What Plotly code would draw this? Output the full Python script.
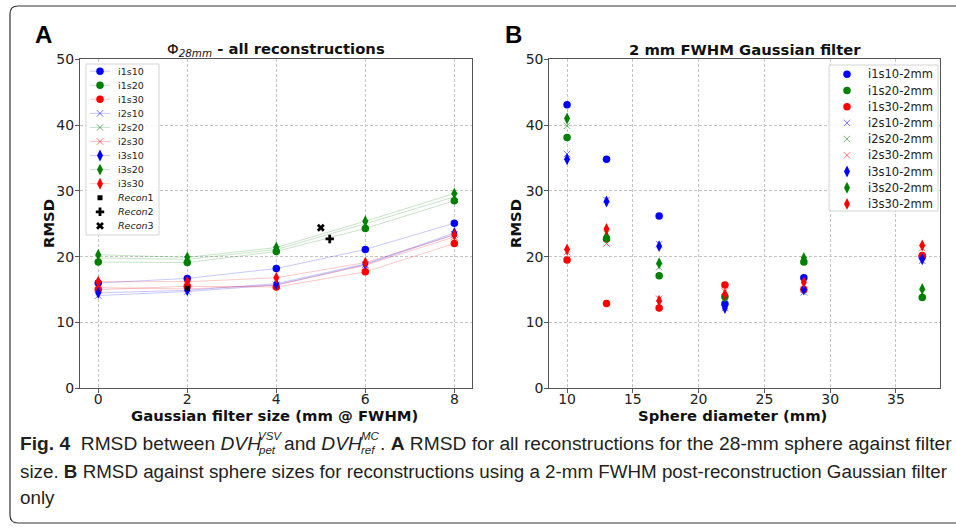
import plotly.graph_objects as go

W, H = 956, 529

# ---------------- data ----------------
series_names = ["i1s10", "i1s20", "i1s30", "i2s10", "i2s20", "i2s30", "i3s10", "i3s20", "i3s30"]

# Panel A: RMSD vs Gaussian filter size (28 mm sphere)
filter_sizes = [0, 2, 4, 6, 8]
a_i1s10 = [16.0, 16.7, 18.2, 21.1, 25.1]
a_i1s20 = [19.2, 19.1, 20.8, 24.3, 28.5]
a_i1s30 = [15.0, 15.5, 15.4, 17.7, 22.0]
a_i2s10 = [14.1, 14.7, 15.7, 18.8, 23.4]
a_i2s20 = [19.8, 19.6, 21.1, 25.0, 29.1]
a_i2s30 = [15.3, 15.1, 15.7, 18.7, 23.0]
a_i3s10 = [14.5, 14.9, 15.9, 18.9, 23.6]
a_i3s20 = [20.3, 19.9, 21.4, 25.4, 29.6]
a_i3s30 = [16.2, 16.2, 16.8, 19.1, 23.3]
a_values = [a_i1s10, a_i1s20, a_i1s30, a_i2s10, a_i2s20, a_i2s30, a_i3s10, a_i3s20, a_i3s30]

recon_names = ["Recon1", "Recon2", "Recon3"]
recon_x = [2.0, 5.2, 5.0]
recon_y = [15.2, 22.7, 24.4]

# Panel B: RMSD vs sphere diameter (2 mm FWHM filter)
sphere_diam = [10, 13, 17, 22, 28, 37]
b_i1s10 = [43.1, 34.8, 26.2, 12.8, 16.8, 20.0]
b_i1s20 = [38.1, 22.7, 17.1, 13.9, 19.2, 13.8]
b_i1s30 = [19.5, 12.9, 12.2, 15.7, 15.0, 20.2]
b_i2s10 = [35.6, 28.6, 21.9, 12.2, 14.6, 19.4]
b_i2s20 = [39.9, 23.5, 18.4, 13.7, 19.5, 14.5]
b_i2s30 = [20.7, 22.0, 13.6, 14.7, 15.0, 21.3]
b_i3s10 = [34.8, 28.4, 21.6, 12.2, 15.0, 19.6]
b_i3s20 = [41.0, 23.1, 19.0, 13.9, 19.8, 15.1]
b_i3s30 = [21.1, 24.2, 13.3, 14.3, 16.1, 21.7]
b_values = [b_i1s10, b_i1s20, b_i1s30, b_i2s10, b_i2s20, b_i2s30, b_i3s10, b_i3s20, b_i3s30]

y_ticks = [0, 10, 20, 30, 40, 50]
a_x_ticks = [0, 2, 4, 6, 8]
b_x_ticks = [10, 15, 20, 25, 30, 35]

# ---------------- styles ----------------
RGB = {"s10": (0, 0, 255), "s20": (0, 128, 0), "s30": (255, 0, 0)}
FONT = "DejaVu Sans"


def rgba(c, a):
    return "rgba(%d,%d,%d,%.2f)" % (c[0], c[1], c[2], a)


def marker_style(name):
    it = name[:2]
    c = RGB[name[2:]]
    if it == "i1":
        return dict(symbol="circle", size=7.5, color=rgba(c, 1), line=dict(width=0))
    if it == "i2":
        return dict(symbol="x-thin", size=6.5, color=rgba(c, 0.55),
                    line=dict(width=1, color=rgba(c, 0.55)))
    return dict(symbol="diamond-tall", size=8.5, color=rgba(c, 1), line=dict(width=0))


recon_markers = [
    dict(symbol="square", size=5, color="black"),
    dict(symbol="cross", size=7, color="black"),
    dict(symbol="x", size=7, color="black"),
]

fig = go.Figure()

# Panel A traces
for name, vals in zip(series_names, a_values):
    c = RGB[name[2:]]
    fig.add_trace(go.Scatter(
        x=filter_sizes, y=vals, mode="lines+markers", name=name,
        line=dict(color=rgba(c, 0.22), width=1),
        marker=marker_style(name), xaxis="x", yaxis="y", showlegend=False))
for i, nm in enumerate(recon_names):
    fig.add_trace(go.Scatter(
        x=[recon_x[i]], y=[recon_y[i]], mode="markers", name=nm,
        marker=recon_markers[i], xaxis="x", yaxis="y", showlegend=False))

# Panel B traces
for name, vals in zip(series_names, b_values):
    fig.add_trace(go.Scatter(
        x=sphere_diam, y=vals, mode="markers", name=name + "-2mm",
        marker=marker_style(name), xaxis="x2", yaxis="y2", showlegend=False))

# ---------------- legends (drawn in a pixel-space overlay axis) ----------------
annotations = []


def legend_box(x0, x1, y0, y1):
    fig.add_trace(go.Scatter(
        x=[x0, x1, x1, x0, x0], y=[y0, y0, y1, y1, y0], mode="lines", fill="toself",
        fillcolor="rgba(255,255,255,0.85)", line=dict(color="#d4d4d4", width=1),
        xaxis="x3", yaxis="y3", showlegend=False, hoverinfo="skip"))


# legend A
legend_box(86, 159, 64, 235)
la_y0, la_dy = 71.2, 14.06
for i, name in enumerate(series_names):
    yy = la_y0 + la_dy * i
    c = RGB[name[2:]]
    fig.add_trace(go.Scatter(
        x=[90, 110], y=[yy, yy], mode="lines",
        line=dict(color=rgba(c, 0.22), width=1),
        xaxis="x3", yaxis="y3", showlegend=False, hoverinfo="skip"))
    fig.add_trace(go.Scatter(
        x=[100], y=[yy], mode="markers", marker=marker_style(name),
        xaxis="x3", yaxis="y3", showlegend=False, hoverinfo="skip"))
    annotations.append(dict(x=116, y=yy, xref="x3", yref="y3", text=name, showarrow=False,
                            xanchor="left", yanchor="middle",
                            font=dict(family=FONT, size=9.5, color="#222")))
for j, nm in enumerate(recon_names):
    yy = la_y0 + la_dy * (len(series_names) + j)
    fig.add_trace(go.Scatter(
        x=[100], y=[yy], mode="markers", marker=recon_markers[j],
        xaxis="x3", yaxis="y3", showlegend=False, hoverinfo="skip"))
    annotations.append(dict(x=116, y=yy, xref="x3", yref="y3",
                            text="<i>" + nm[:-1] + "</i>" + nm[-1], showarrow=False,
                            xanchor="left", yanchor="middle",
                            font=dict(family=FONT, size=9.5, color="#222")))

# legend B
legend_box(829, 938, 65, 211)
lb_y0, lb_dy = 74.3, 16.2
for i, name in enumerate(series_names):
    yy = lb_y0 + lb_dy * i
    fig.add_trace(go.Scatter(
        x=[847], y=[yy], mode="markers", marker=marker_style(name),
        xaxis="x3", yaxis="y3", showlegend=False, hoverinfo="skip"))
    annotations.append(dict(x=866, y=yy, xref="x3", yref="y3", text=name + "-2mm",
                            showarrow=False, xanchor="left", yanchor="middle",
                            font=dict(family=FONT, size=11.5, color="#222")))


# ---------------- text ----------------
def px(x):
    return x / W


def py(y):
    return 1 - y / H


def add_text(x, y, text, size, family=FONT, xanchor="center", yanchor="middle", angle=0,
             color="#111"):
    annotations.append(dict(x=px(x), y=py(y), xref="paper", yref="paper", text=text,
                            showarrow=False, xanchor=xanchor, yanchor=yanchor,
                            textangle=angle, font=dict(family=family, size=size, color=color)))


TS = 14.8
add_text(43, 35, "<b>A</b>", 24, family="Liberation Sans", color="#000")
add_text(513, 35, "<b>B</b>", 24, family="Liberation Sans", color="#000")
add_text(276, 49, "Φ<sub><i>28mm</i></sub><b> - all reconstructions</b>", TS)
add_text(745, 49, "<b>2 mm FWHM Gaussian filter</b>", TS)
add_text(48, 224, "<b>RMSD</b>", TS, angle=-90)
add_text(515, 224, "<b>RMSD</b>", TS, angle=-90)
add_text(274, 415, "<b>Gaussian filter size (mm @ FWHM)</b>", TS)
add_text(732, 415, "<b>Sphere diameter (mm)</b>", TS)

# caption
CAP = "Liberation Sans"
C1 = 19.2
C2 = 18.8
SS = 11.5
CC = "#231f20"
add_text(18, 443, "<b>Fig. 4</b>\u00a0 RMSD between <i>DVH</i>", C1, family=CAP, xanchor="left", color=CC)
add_text(256, 436, "<i>VSV</i>", SS, family=CAP, xanchor="left", color=CC)
add_text(256, 450, "<i>pet</i>", SS, family=CAP, xanchor="left", color=CC)
add_text(282, 443, "and <i>DVH</i>", C1, family=CAP, xanchor="left", color=CC)
add_text(359, 436, "<i>MC</i>", SS, family=CAP, xanchor="left", color=CC)
add_text(359, 450, "<i>ref</i>", SS, family=CAP, xanchor="left", color=CC)
add_text(378, 443, ". <b>A</b> RMSD for all reconstructions for the 28-mm sphere against filter",
         C1, family=CAP, xanchor="left", color=CC)
add_text(18, 471.5, "size. <b>B</b> RMSD against sphere sizes for reconstructions using a 2-mm FWHM "
         "post-reconstruction Gaussian filter", C2, family=CAP, xanchor="left", color=CC)
add_text(18, 497, "only", C2, family=CAP, xanchor="left", color=CC)

# ---------------- axes ----------------
common = dict(showgrid=True, gridcolor="#c4c4c4", griddash="3px,2px", gridwidth=0.8,
              showline=True, mirror=True, linecolor="#555", linewidth=1,
              ticks="outside", ticklen=4, tickcolor="#555", zeroline=False, automargin=False,
              tickfont=dict(family=FONT, size=14, color="#222"))

ydom = [py(388.3), py(59.3)]
fig.update_layout(
    template="none",
    width=W, height=H, margin=dict(l=0, r=0, t=0, b=0, pad=0, autoexpand=False),
    paper_bgcolor="white", plot_bgcolor="rgba(0,0,0,0)",
    xaxis=dict(domain=[px(80), px(471.7)], range=[-0.41, 8.39], tickvals=a_x_ticks,
               anchor="y", ticklabelstandoff=-6, **common),
    yaxis=dict(domain=ydom, range=[0, 50], tickvals=y_ticks, anchor="x",
               ticklabelstandoff=-2, **common),
    xaxis2=dict(domain=[px(549.3), px(940)], range=[8.65, 38.35], tickvals=b_x_ticks,
                anchor="y2", ticklabelstandoff=-6, **common),
    yaxis2=dict(domain=ydom, range=[0, 50], tickvals=y_ticks, anchor="x2",
                ticklabelstandoff=-2, **common),
    xaxis3=dict(domain=[0, 1], range=[0, W], visible=False, anchor="y3", fixedrange=True,
                automargin=False),
    yaxis3=dict(domain=[0, 1], range=[H, 0], visible=False, anchor="x3", fixedrange=True,
                automargin=False),
    annotations=annotations,
    showlegend=False,
    shapes=[dict(type="path", xref="x3", yref="y3",
                 path="M 18,6 L 990,6 L 990,523 L 18,523 Q 10,523 10,515 L 10,14 Q 10,6 18,6 Z",
                 line=dict(color="#333", width=1.2), layer="below")],
)

fig.write_html("out.html", config={"displayModeBar": False},
               post_script="document.body.style.margin='0px';")
